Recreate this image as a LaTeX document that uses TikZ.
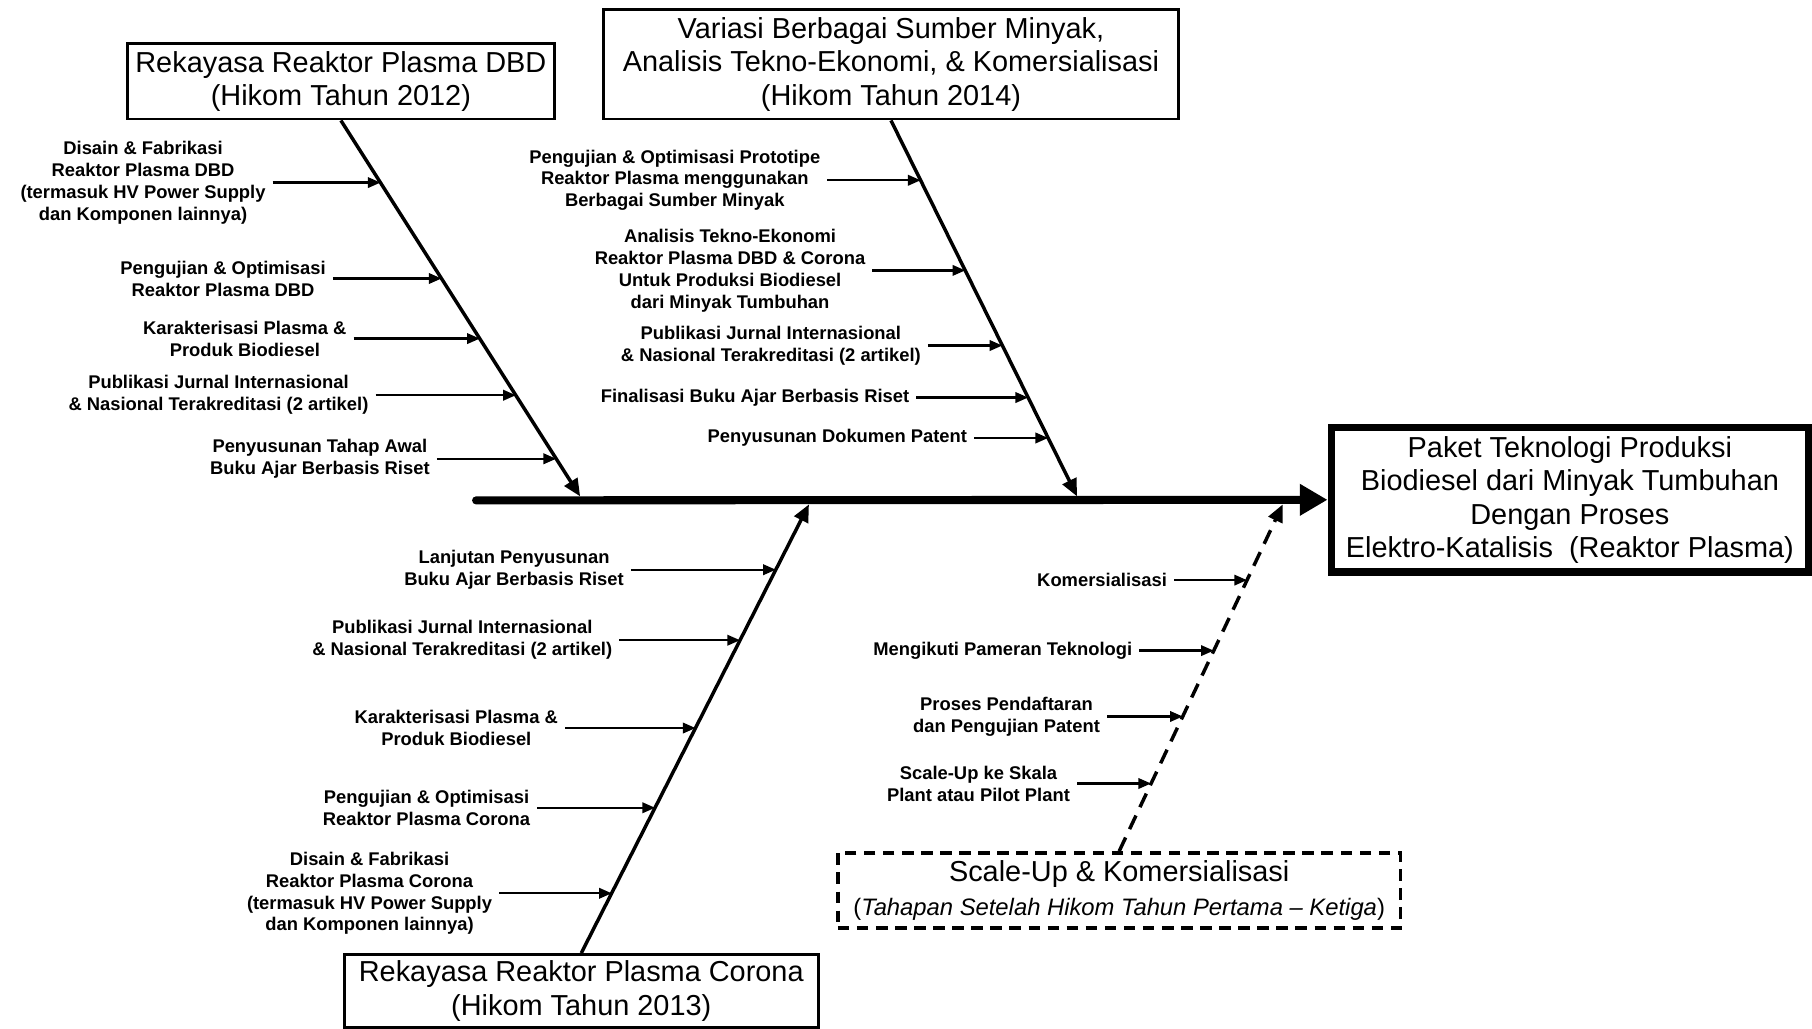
\documentclass[tikz,border=0pt]{standalone}
\usepackage{fontspec}
\setmainfont{Liberation Sans}
\usetikzlibrary{arrows.meta}
\tikzset{>={Triangle}}
\tikzset{
  box/.style={draw, line width=2.5pt, align=center, inner sep=0pt,
    font=\fontsize{25}{29}\selectfont},
  lbl/.style={align=center, anchor=east, inner xsep=6pt, inner ysep=0pt,
    font=\fontsize{15.9}{19}\selectfont\bfseries},
  bone/.style={line width=3pt, -{Triangle[length=15pt,width=13pt]}},
  subarrow/.style={line width=2pt, -{Triangle[length=11pt,width=9pt]}},
  spine/.style={line width=7pt, line cap=round, -{Triangle[length=24pt,width=26pt]}}
}

\begin{document}
\begin{tikzpicture}[x=1pt,y=-1pt]
  \useasboundingbox (0,0) rectangle (1568,890);

  % head and the four category boxes
  \node[box, line width=6.5pt, minimum width=413pt, minimum height=125pt] (paket) at (1358.5,432.5)
    {Paket Teknologi Produksi\\Biodiesel dari Minyak Tumbuhan\\Dengan Proses\\Elektro-Katalisis\ \ (Reaktor Plasma)};
  \node[box, minimum width=370pt, minimum height=65pt] (dbd) at (295,70.5)
    {Rekayasa Reaktor Plasma DBD\\(Hikom Tahun 2012)};
  \node[box, minimum width=498pt, minimum height=95pt] (minyak) at (771,55.5)
    {Variasi Berbagai Sumber Minyak,\\Analisis Tekno-Ekonomi, \& Komersialisasi\\(Hikom Tahun 2014)};
  \node[box, minimum width=410pt, minimum height=63pt] (corona) at (503,857.5)
    {Rekayasa Reaktor Plasma Corona\\(Hikom Tahun 2013)};
  \node[box, line width=3pt, dash pattern=on 10pt off 6.5pt, minimum width=487pt, minimum height=65pt] (scaleup) at (968.5,770.5)
    {Scale-Up \& Komersialisasi\\{\fontsize{20.6}{24}\selectfont(\textit{Tahapan Setelah Hikom Tahun Pertama – Ketiga})}};

  % spine
  \coordinate (tail) at (412,433);
  \draw[spine] (tail) -- (paket.west);

  % bones
  \coordinate (j1) at (502,429.5);
  \coordinate (j2) at (932,429.5);
  \coordinate (j3) at (700,436.5);
  \coordinate (j4) at (1110,436.5);
  \draw[bone] (dbd.south) -- (j1);
  \draw[bone] (minyak.south) -- (j2);
  \draw[bone] (corona.north) -- (j3);
  \draw[bone, dash pattern=on 13pt off 8pt] (scaleup.north) -- (j4);

  % DBD (2012)
  \coordinate (d1) at (329.3,158);
  \coordinate (d2) at (382.1,241);
  \coordinate (d3) at (415.2,293);
  \coordinate (d4) at (446.4,342);
  \coordinate (d5) at (481.3,397);
  \node[lbl] (ld1) at (236,158) {Disain \& Fabrikasi\\Reaktor Plasma DBD\\(termasuk HV Power Supply\\dan Komponen lainnya)};
  \node[lbl] (ld2) at (288,241) {Pengujian \& Optimisasi\\Reaktor Plasma DBD};
  \node[lbl] (ld3) at (306,293) {Karakterisasi Plasma \&\\Produk Biodiesel};
  \node[lbl] (ld4) at (325,342) {Publikasi Jurnal Internasional\\\& Nasional Terakreditasi (2 artikel)};
  \node[lbl] (ld5) at (378,397) {Penyusunan Tahap Awal\\Buku Ajar Berbasis Riset};
  \draw[subarrow] (ld1.east) -- (d1);
  \draw[subarrow] (ld2.east) -- (d2);
  \draw[subarrow] (ld3.east) -- (d3);
  \draw[subarrow] (ld4.east) -- (d4);
  \draw[subarrow] (ld5.east) -- (d5);

  % sumber minyak (2014)
  \coordinate (m1) at (796.7,156);
  \coordinate (m2) at (835.3,234);
  \coordinate (m3) at (867.4,299);
  \coordinate (m4) at (889.7,344);
  \coordinate (m5) at (907.0,379);
  \node[lbl] (lm1) at (716,156) {Pengujian \& Optimisasi Prototipe\\Reaktor Plasma menggunakan\\Berbagai Sumber Minyak};
  \node[lbl] (lm2) at (755,234) {Analisis Tekno-Ekonomi\\Reaktor Plasma DBD \& Corona\\Untuk Produksi Biodiesel\\dari Minyak Tumbuhan};
  \node[lbl] (lm3) at (803,299) {Publikasi Jurnal Internasional\\\& Nasional Terakreditasi (2 artikel)};
  \node[lbl] (lm4) at (793,344) {Finalisasi Buku Ajar Berbasis Riset};
  \node[lbl] (lm5) at (843,379) {Penyusunan Dokumen Patent};
  \draw[subarrow] (lm1.east) -- (m1);
  \draw[subarrow] (lm2.east) -- (m2);
  \draw[subarrow] (lm3.east) -- (m3);
  \draw[subarrow] (lm4.east) -- (m4);
  \draw[subarrow] (lm5.east) -- (m5);

  % corona (2013)
  \coordinate (c1) at (671.4,493);
  \coordinate (c2) at (640.4,554);
  \coordinate (c3) at (601.9,630);
  \coordinate (c4) at (566.9,699);
  \coordinate (c5) at (529.4,773);
  \node[lbl] (lc1) at (546,493) {Lanjutan Penyusunan\\Buku Ajar Berbasis Riset};
  \node[lbl] (lc2) at (536,554) {Publikasi Jurnal Internasional\\\& Nasional Terakreditasi (2 artikel)};
  \node[lbl] (lc3) at (489,630) {Karakterisasi Plasma \&\\Produk Biodiesel};
  \node[lbl] (lc4) at (465,699) {Pengujian \& Optimisasi\\Reaktor Plasma Corona};
  \node[lbl] (lc5) at (432,773) {Disain \& Fabrikasi\\Reaktor Plasma Corona\\(termasuk HV Power Supply\\dan Komponen lainnya)};
  \draw[subarrow] (lc1.east) -- (c1);
  \draw[subarrow] (lc2.east) -- (c2);
  \draw[subarrow] (lc3.east) -- (c3);
  \draw[subarrow] (lc4.east) -- (c4);
  \draw[subarrow] (lc5.east) -- (c5);

  % scale-up, dashed bone
  \coordinate (s1) at (1079.1,502);
  \coordinate (s2) at (1050.3,563);
  \coordinate (s3) at (1023.5,620);
  \coordinate (s4) at (996.1,678);
  \node[lbl] (ls1) at (1016,502) {Komersialisasi};
  \node[lbl] (ls2) at (986,563) {Mengikuti Pameran Teknologi};
  \node[lbl] (ls3) at (958,620) {Proses Pendaftaran\\dan Pengujian Patent};
  \node[lbl] (ls4) at (932,678) {Scale-Up ke Skala\\Plant atau Pilot Plant};
  \draw[subarrow] (ls1.east) -- (s1);
  \draw[subarrow] (ls2.east) -- (s2);
  \draw[subarrow] (ls3.east) -- (s3);
  \draw[subarrow] (ls4.east) -- (s4);
\end{tikzpicture}
\end{document}
